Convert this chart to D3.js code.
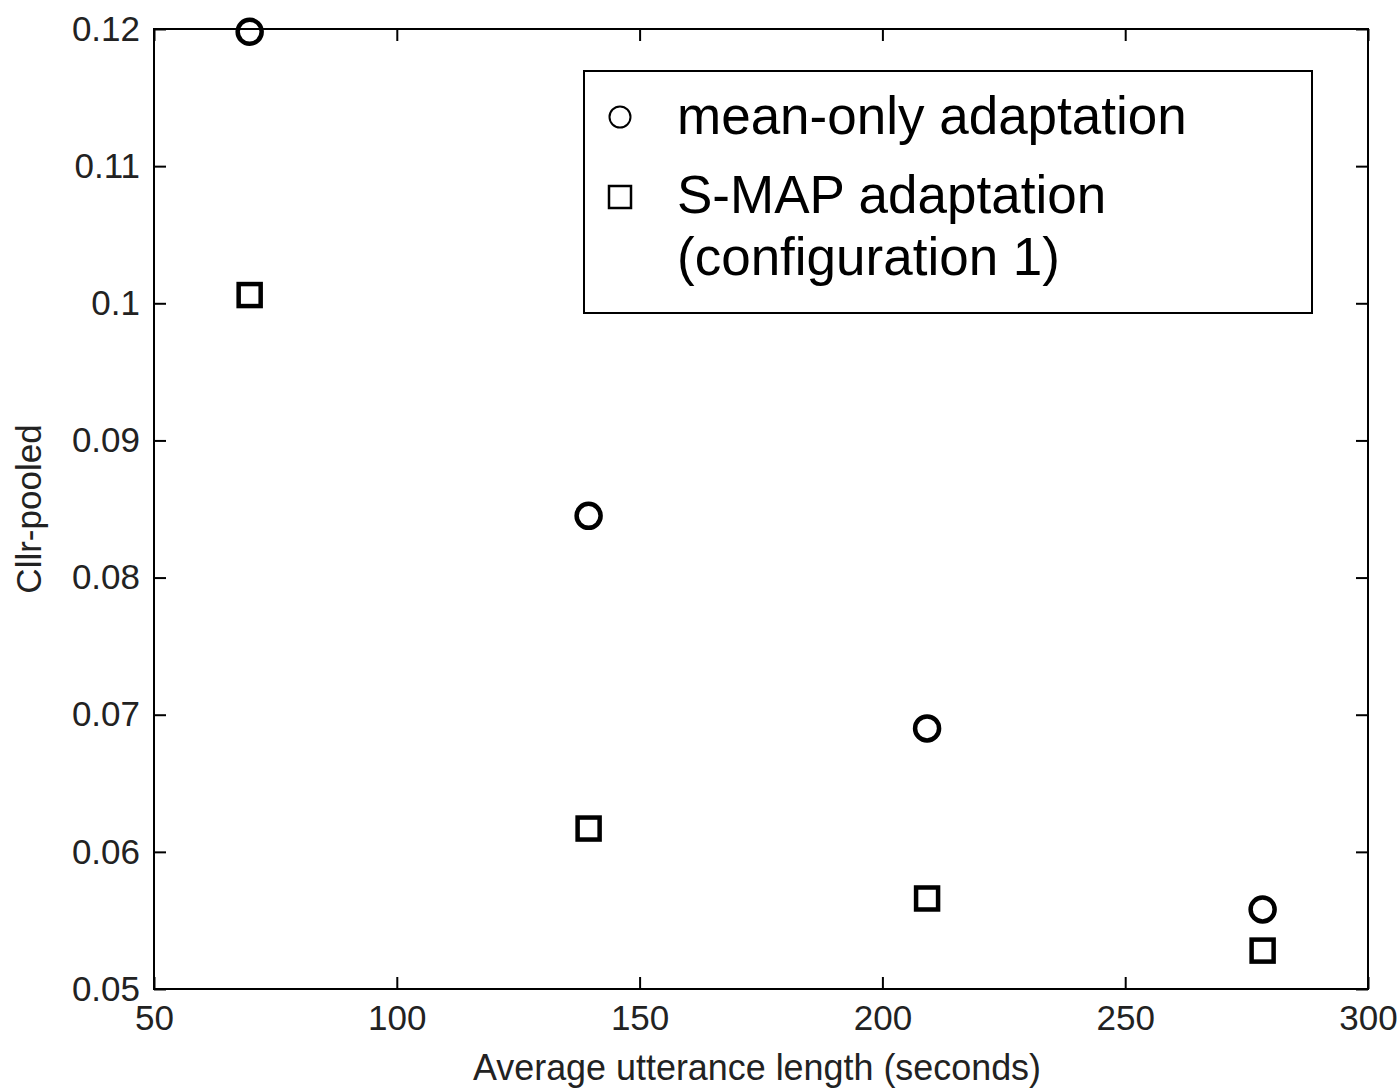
<!DOCTYPE html>
<html><head><meta charset="utf-8">
<script src="https://cdn.jsdelivr.net/npm/d3@7"></script>
<style>
body{margin:0;background:#fff;}
svg{display:block;}
</style></head>
<body>
<svg id="chart" width="1398" height="1090"></svg>
<script>
const lengths = [69.7, 139.5, 209.2, 278.3];
const meanOnly = [0.1198, 0.0845, 0.0690, 0.0558];
const smap = [0.1006, 0.0617, 0.0566, 0.0528];
const xTicks = [50, 100, 150, 200, 250, 300];
const yTicks = [0.05, 0.06, 0.07, 0.08, 0.09, 0.10, 0.11, 0.12];
const yTickLabels = ["0.05","0.06","0.07","0.08","0.09","0.1","0.11","0.12"];
const legendLabels = [["mean-only adaptation"], ["S-MAP adaptation", "(configuration 1)"]];

const L = 154, R = 1368, T = 29, B = 989;
const svg = d3.select("#chart");
const x = d3.scaleLinear().domain([50, 300]).range([L, R]);
const y = d3.scaleLinear().domain([0.05, 0.12]).range([B, T]);
const font = "'Liberation Sans', Arial, sans-serif";
const tl = 12;

svg.append("rect").attr("x", L).attr("y", T).attr("width", R - L).attr("height", B - T)
  .attr("fill", "none").attr("stroke", "#000").attr("stroke-width", 2);

const xb = svg.append("g").attr("transform", `translate(0,${B})`)
  .call(d3.axisBottom(x).tickValues(xTicks).tickSize(-tl).tickPadding(15).tickFormat(d3.format("d")));
const xt = svg.append("g").attr("transform", `translate(0,${T})`)
  .call(d3.axisTop(x).tickValues(xTicks).tickSize(-tl).tickFormat(""));
const yl = svg.append("g").attr("transform", `translate(${L},0)`)
  .call(d3.axisLeft(y).tickValues(yTicks).tickSize(-tl).tickPadding(14).tickFormat((d, i) => yTickLabels[i]));
const yr = svg.append("g").attr("transform", `translate(${R},0)`)
  .call(d3.axisRight(y).tickValues(yTicks).tickSize(-tl).tickFormat(""));
[xb, xt, yl, yr].forEach(g => {
  g.select(".domain").remove();
  g.selectAll(".tick line").attr("stroke", "#000").attr("stroke-width", 2);
  g.selectAll(".tick text").attr("font-size", 35).attr("fill", "#222").attr("font-family", font);
});
xb.selectAll(".tick text").attr("dy", "0.75em");

svg.append("text").attr("x", 757).attr("y", 1080).attr("text-anchor", "middle")
  .attr("font-family", font).attr("font-size", 36).attr("fill", "#222")
  .attr("textLength", 568).attr("lengthAdjust", "spacingAndGlyphs")
  .text("Average utterance length (seconds)");
svg.append("text").attr("transform", `translate(41,${(T + B) / 2}) rotate(-90)`).attr("text-anchor", "middle")
  .attr("font-family", font).attr("font-size", 35).attr("fill", "#222")
  .text("Cllr-pooled");

svg.append("g").selectAll("circle").data(lengths).join("circle")
  .attr("cx", d => x(d)).attr("cy", (d, i) => y(meanOnly[i])).attr("r", 12)
  .attr("fill", "none").attr("stroke", "#000").attr("stroke-width", 4.5);
const s = 22;
svg.append("g").selectAll("rect").data(lengths).join("rect")
  .attr("x", d => x(d) - s / 2).attr("y", (d, i) => y(smap[i]) - s / 2)
  .attr("width", s).attr("height", s)
  .attr("fill", "none").attr("stroke", "#000").attr("stroke-width", 4.5);

const lg = svg.append("g");
lg.append("rect").attr("x", 584).attr("y", 71).attr("width", 728).attr("height", 242)
  .attr("fill", "#fff").attr("stroke", "#000").attr("stroke-width", 2);
lg.append("circle").attr("cx", 620).attr("cy", 117).attr("r", 10.5)
  .attr("fill", "none").attr("stroke", "#000").attr("stroke-width", 2);
lg.append("rect").attr("x", 609).attr("y", 186).attr("width", 22).attr("height", 22)
  .attr("fill", "none").attr("stroke", "#000").attr("stroke-width", 2.5);
const lineY = [[134], [213, 275]];
legendLabels.forEach((lines, i) => {
  lines.forEach((t, j) => {
    lg.append("text").attr("x", 677).attr("y", lineY[i][j])
      .attr("font-family", font).attr("font-size", 53).attr("fill", "#000").text(t);
  });
});
</script>
</body></html>
